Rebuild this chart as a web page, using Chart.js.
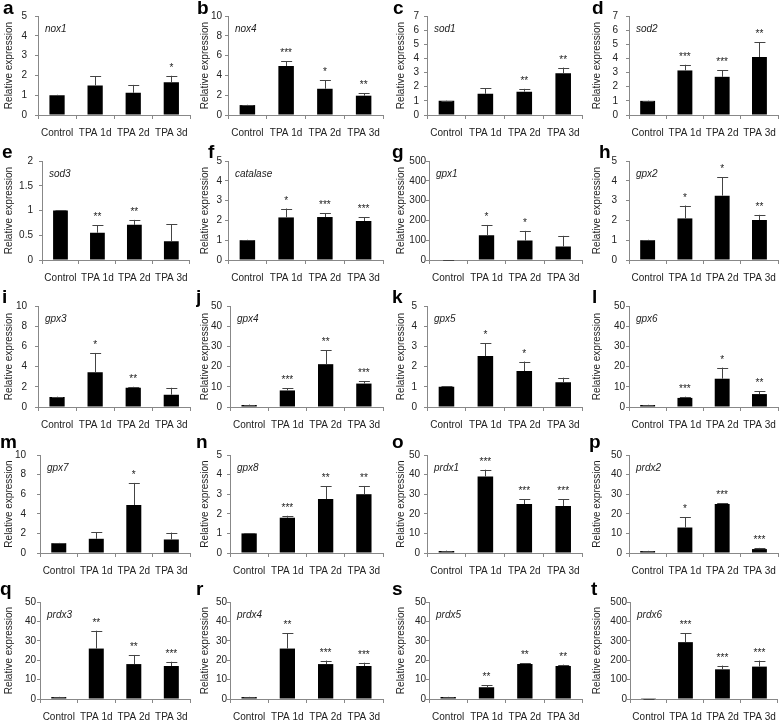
<!DOCTYPE html>
<html>
<head>
<meta charset="utf-8">
<script src="https://cdn.jsdelivr.net/npm/chart.js@4.4.1/dist/chart.umd.min.js"></script>
<style>
body { margin:0; background:#fff; }
#grid { position:relative; width:784px; height:723px; overflow:hidden; }
#grid canvas { position:absolute; }
</style>
</head>
<body>
<div id="grid"></div>
<script>
// ---------------- DATA ----------------
const categories = ['Control', 'TPA 1d', 'TPA 2d', 'TPA 3d'];
const letters = ['a','b','c','d','e','f','g','h','i','j','k','l','m','n','o','p','q','r','s','t'];
const genes = ['nox1','nox4','sod1','sod2','sod3','catalase','gpx1','gpx2','gpx3','gpx4',
               'gpx5','gpx6','gpx7','gpx8','prdx1','prdx2','prdx3','prdx4','prdx5','prdx6'];

// mean relative expression, one small array per panel
const means = [
  [1, 1.49, 1.12, 1.65],
  [1, 4.95, 2.65, 1.95],
  [1, 1.5, 1.65, 2.95],
  [1, 3.15, 2.7, 4.1],
  [1, 0.55, 0.71, 0.38],
  [1, 2.15, 2.17, 1.97],
  [2, 125, 98, 68],
  [1, 2.1, 3.25, 2.02],
  [1, 3.45, 1.9, 1.22],
  [1, 8.2, 21.2, 11.6],
  [1, 2.52, 1.78, 1.23],
  [1, 4.5, 14, 6.4],
  [1, 1.45, 4.9, 1.38],
  [1, 1.8, 2.75, 3.0],
  [1, 39, 25, 24],
  [1, 13, 25, 2],
  [1, 26, 18, 17],
  [1, 26, 18, 17],
  [1, 6, 18, 17],
  [1, 293, 153, 167]
];
// upper error (SD)
const errors = [
  [0.02, 0.48, 0.40, 0.33],
  [0.03, 0.5, 0.85, 0.25],
  [0.02, 0.38, 0.2, 0.4],
  [0.02, 0.4, 0.45, 1.05],
  [0.01, 0.15, 0.1, 0.34],
  [0.02, 0.45, 0.18, 0.18],
  [0, 52, 49, 54],
  [0.02, 0.65, 0.93, 0.26],
  [0.03, 1.9, 0.1, 0.68],
  [0.2, 1.0, 6.9, 1.1],
  [0.02, 0.63, 0.47, 0.22],
  [0.1, 0.6, 5.5, 1.3],
  [0.03, 0.67, 2.25, 0.7],
  [0.02, 0.1, 0.65, 0.42],
  [0.2, 3.5, 2.5, 3.3],
  [0.1, 5.3, 0.5, 0.6],
  [0.1, 9.2, 4.7, 2.2],
  [0.1, 8, 1.8, 1.7],
  [0.1, 1.1, 0.5, 0.7],
  [0, 45, 19, 31]
];
const stars = [
  ['', '', '', '*'],
  ['', '***', '*', '**'],
  ['', '', '**', '**'],
  ['', '***', '***', '**'],
  ['', '**', '**', ''],
  ['', '*', '***', '***'],
  ['', '*', '*', ''],
  ['', '*', '*', '**'],
  ['', '*', '**', ''],
  ['', '***', '**', '***'],
  ['', '*', '*', ''],
  ['', '***', '*', '**'],
  ['', '', '*', ''],
  ['', '***', '**', '**'],
  ['', '***', '***', '***'],
  ['', '*', '***', '***'],
  ['', '**', '**', '***'],
  ['', '**', '***', '***'],
  ['', '**', '**', '**'],
  ['', '***', '***', '***']
];
const yMax  = [5, 10, 7, 7, 2, 5, 500, 5, 10, 50, 5, 50, 10, 5, 50, 50, 50, 50, 50, 500];
const yStep = [1, 2, 1, 1, 0.5, 1, 100, 1, 2, 10, 1, 10, 2, 1, 10, 10, 10, 10, 10, 100];

// ---------------- LAYOUT ----------------
const colLeft = [0, 196, 392, 588];
const plotRight = [193, 187, 192, 194];
const rowTop = [0, 145, 290, 435, 580];
const rowH = [145, 145, 145, 145, 143];
const plotTop = [16, 16, 16, 20, 22];
const plotBottom = [115, 115, 117, 118, 119];
const letterBase = [14, 13, 13, 13, 15];
const axisLeft = [38,32,35,41, 42,32,37,41, 38,34,35,41, 40,34,35,41, 40,34,37,42];
const labelGap = [8,3,5,8, 6,3,0,9, 8,5,7,1, 11,5,4,4, 1,0,0,0];
const letterX  = [3,1,1,4, 2,12,0,11, 2,0,0,4, 0,0,0,1, 0,0,0,3];

const FONT = "'Liberation Sans', Arial, sans-serif";
Chart.defaults.font.family = FONT;

const grid = document.getElementById('grid');

genes.forEach((gene, i) => {
    const r = Math.floor(i / 4), c = i % 4;
    const h = rowH[r];
    const canvas = document.createElement('canvas');
    canvas.width = 196;
    canvas.height = h;
    canvas.style.left = colLeft[c] + 'px';
    canvas.style.top = rowTop[r] + 'px';
    grid.appendChild(canvas);

    // error bars, stars, gene name, panel letter
    const annot = {
        id: 'annot' + i,
        afterDatasetsDraw(chart) {
            const ctx = chart.ctx;
            const ys = chart.scales.y;
            const meta = chart.getDatasetMeta(0);
            ctx.save();
            meta.data.forEach((bar, k) => {
                const top = ys.getPixelForValue(means[i][k] + errors[i][k]);
                ctx.strokeStyle = '#444';
                ctx.lineWidth = 1;
                ctx.beginPath();
                ctx.moveTo(Math.round(bar.x) + 0.5, bar.y);
                ctx.lineTo(Math.round(bar.x) + 0.5, top);
                ctx.moveTo(bar.x - 5, Math.round(top) + 0.5);
                ctx.lineTo(bar.x + 6, Math.round(top) + 0.5);
                ctx.stroke();
                if (stars[i][k]) {
                    ctx.fillStyle = '#222';
                    ctx.font = '10px ' + FONT;
                    ctx.textAlign = 'center';
                    ctx.textBaseline = 'alphabetic';
                    ctx.fillText(stars[i][k], bar.x, top - 5);
                }
            });
            const area = chart.chartArea;
            ctx.fillStyle = '#222';
            ctx.font = 'italic 10px ' + FONT;
            ctx.textAlign = 'left';
            ctx.textBaseline = 'middle';
            ctx.fillText(gene, area.left + 7, area.top + 13);

            ctx.fillStyle = '#000';
            ctx.font = 'bold 19px ' + FONT;
            ctx.textBaseline = 'alphabetic';
            ctx.fillText(letters[i], letterX[i], letterBase[r]);
            ctx.restore();
        }
    };

    new Chart(canvas, {
        type: 'bar',
        data: {
            labels: categories,
            datasets: [{
                data: means[i],
                backgroundColor: '#000',
                barPercentage: 0.4,
                categoryPercentage: 1
            }]
        },
        options: {
            responsive: false,
            animation: false,
            devicePixelRatio: 1,
            layout: { padding: { top: plotTop[r], right: 196 - plotRight[c], left: 0, bottom: 0 } },
            plugins: { legend: { display: false }, tooltip: { enabled: false } },
            scales: {
                x: {
                    grid: { drawOnChartArea: false, tickLength: 4, color: '#888', offset: true },
                    border: { color: '#888' },
                    ticks: { color: '#222', font: { size: 10 }, padding: 8, maxRotation: 0, autoSkip: false },
                    afterFit: s => { s.height = h - plotBottom[r]; }
                },
                y: {
                    min: 0,
                    max: yMax[i],
                    ticks: {
                        stepSize: yStep[i], autoSkip: false, color: '#222', font: { size: 10 },
                        padding: labelGap[i], callback: v => String(v)
                    },
                    grid: { drawOnChartArea: false, tickLength: 3, color: '#888' },
                    border: { color: '#888' },
                    title: { display: true, text: 'Relative expression', color: '#222', font: { size: 10 }, padding: { top: 3, bottom: 0 } },
                    afterFit: s => { s.width = axisLeft[i]; }
                }
            }
        },
        plugins: [annot]
    });
});
</script>
</body>
</html>
